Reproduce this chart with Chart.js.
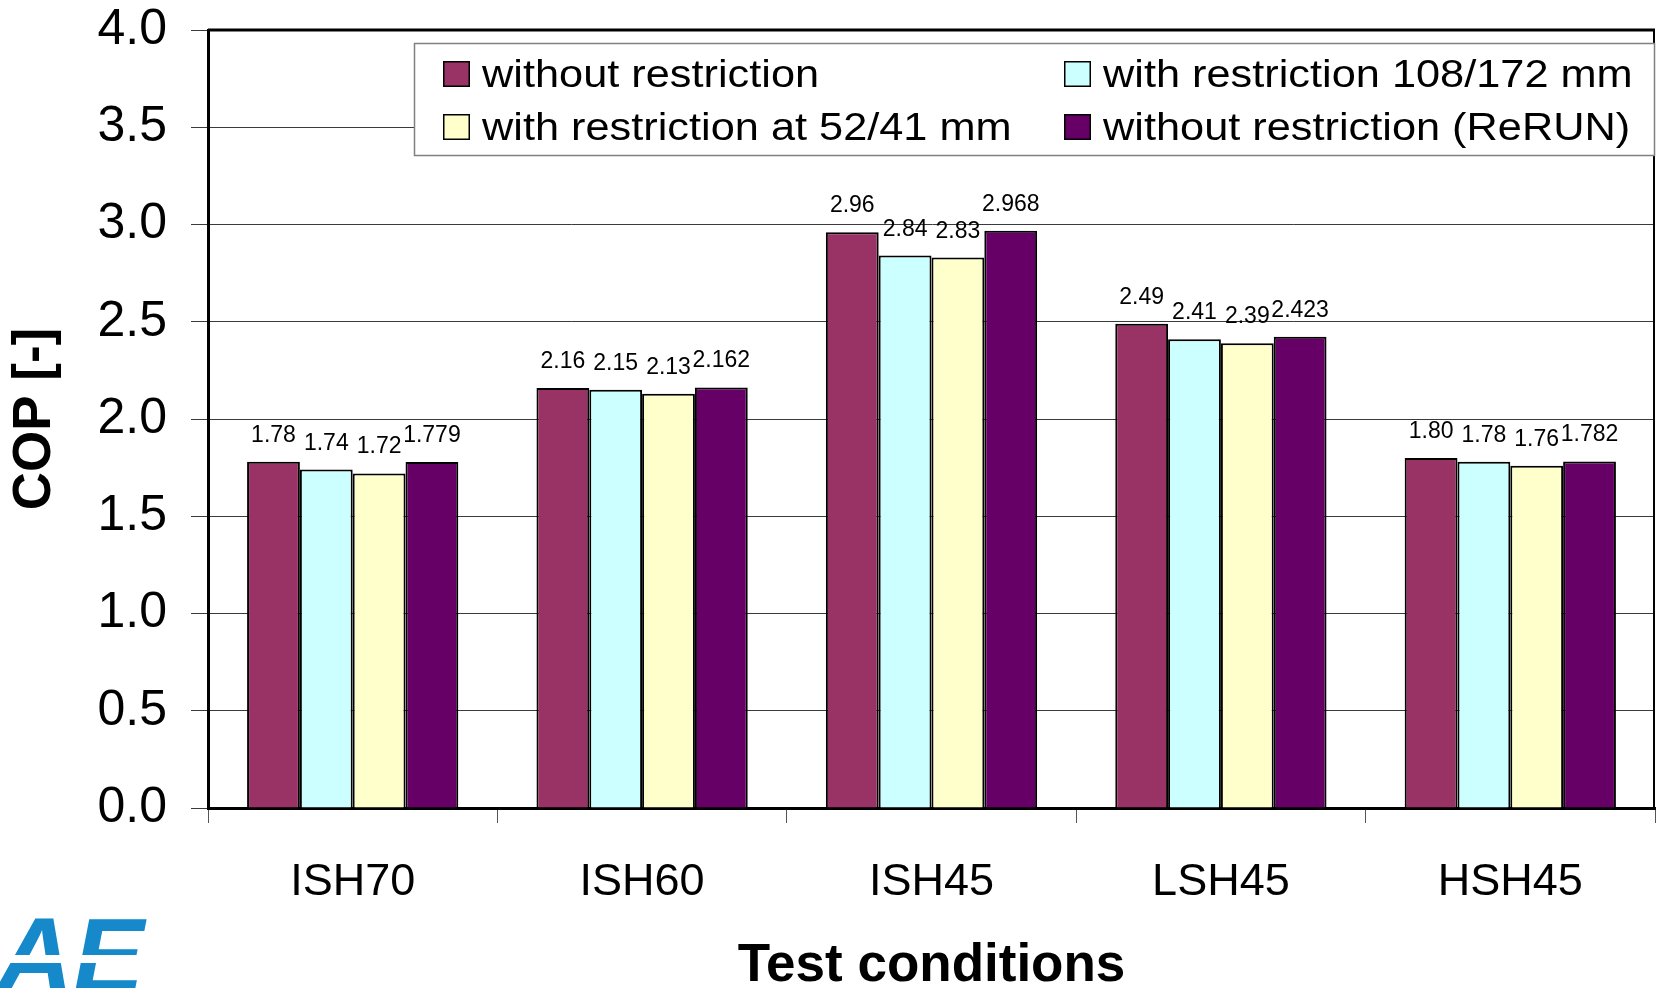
<!DOCTYPE html>
<html>
<head>
<meta charset="utf-8">
<script src="https://cdn.jsdelivr.net/npm/chart.js@4.4.1/dist/chart.umd.min.js"></script>
<style>
  html, body { margin: 0; padding: 0; background: #fff; }
  canvas { display: block; }
</style>
</head>
<body>
<canvas id="copChart" width="1656" height="988"></canvas>
<script>
const categories = ["ISH70", "ISH60", "ISH45", "LSH45", "HSH45"];
const seriesNames = [
  "without restriction",
  "with restriction 108/172 mm",
  "with restriction at 52/41 mm",
  "without restriction (ReRUN)"
];
const withoutRestriction = [1.78, 2.16, 2.96, 2.49, 1.80];
const restriction108 = [1.74, 2.15, 2.84, 2.41, 1.78];
const restriction52 = [1.72, 2.13, 2.83, 2.39, 1.76];
const withoutRestrictionRerun = [1.779, 2.162, 2.968, 2.423, 1.782];
const labelDecimals = [2, 2, 2, 3];
const seriesColors = ["#993366", "#CCFFFF", "#FFFFCC", "#660066"];
const yMin = 0, yMax = 4, yStep = 0.5;

const FONT = "'Liberation Sans', Arial, sans-serif";
Chart.defaults.font.family = FONT;
Chart.defaults.color = "#000";

// value labels above each bar
const valueLabels = {
  id: "valueLabels",
  afterDatasetsDraw(chart) {
    const ctx = chart.ctx;
    ctx.save();
    ctx.font = "23px " + FONT;
    ctx.fillStyle = "#000";
    ctx.textAlign = "center";
    ctx.textBaseline = "alphabetic";
    chart.data.datasets.forEach((ds, i) => {
      chart.getDatasetMeta(i).data.forEach((bar, j) => {
        ctx.fillText(ds.data[j].toFixed(labelDecimals[i]), bar.x, bar.y - 20);
      });
    });
    ctx.restore();
  }
};

// frame on top/right plus the boxed two-column legend
const frameAndLegend = {
  id: "frameAndLegend",
  afterDraw(chart) {
    const ctx = chart.ctx;
    const a = chart.chartArea;
    ctx.save();
    ctx.strokeStyle = "#000";
    ctx.lineWidth = 3;
    ctx.beginPath();
    ctx.moveTo(a.left, a.top);
    ctx.lineTo(a.right, a.top);
    ctx.stroke();
    ctx.lineWidth = 2;
    ctx.beginPath();
    ctx.moveTo(a.right - 1, a.top);
    ctx.lineTo(a.right - 1, a.bottom);
    ctx.stroke();

    // legend box
    const box = { x: 414, y: a.top + 13, w: a.right - 414, h: 112 };
    ctx.fillStyle = "#fff";
    ctx.fillRect(box.x, box.y, box.w, box.h);
    ctx.strokeStyle = "#808080";
    ctx.lineWidth = 1.5;
    ctx.strokeRect(box.x + 0.5, box.y + 0.5, box.w - 1, box.h);

    const colX = [443, 1064];
    const rowBase = [box.y + 44, box.y + 97];
    chart.data.datasets.forEach((ds, i) => {
      const x = colX[i % 2];
      const base = rowBase[Math.floor(i / 2)];
      ctx.fillStyle = ds.backgroundColor;
      ctx.fillRect(x, base - 26, 27, 26);
      ctx.strokeStyle = "#000";
      ctx.lineWidth = 1.5;
      ctx.strokeRect(x + 0.75, base - 25.25, 25.5, 24.5);
      ctx.save();
      ctx.translate(x + 39, base);
      ctx.scale(1.14, 1);
      ctx.fillStyle = "#000";
      ctx.font = "38px " + FONT;
      ctx.textAlign = "left";
      ctx.textBaseline = "alphabetic";
      ctx.fillText(ds.label, 0, 0);
      ctx.restore();
    });

    // corner logo
    ctx.beginPath();
    ctx.rect(0, 912, 150, 76);
    ctx.clip();
    ctx.fillStyle = "#1589CA";
    ctx.font = "italic bold 106px " + FONT;
    ctx.textAlign = "right";
    ctx.textBaseline = "alphabetic";
    ctx.fillText("RAE", 144, 992);
    ctx.fillStyle = "#fff";
    ctx.fillRect(0, 955, 150, 8);
    ctx.restore();
  }
};

const datasets = [withoutRestriction, restriction108, restriction52, withoutRestrictionRerun].map((vals, i) => ({
  label: seriesNames[i],
  data: vals,
  backgroundColor: seriesColors[i],
  borderColor: "#000",
  borderWidth: 2,
  categoryPercentage: 0.73,
  barPercentage: 1.0
}));

new Chart(document.getElementById("copChart").getContext("2d"), {
  type: "bar",
  data: { labels: categories, datasets },
  options: {
    responsive: false,
    animation: false,
    devicePixelRatio: 1,
    layout: { padding: { left: 0, right: 1, top: 0, bottom: 0 } },
    plugins: {
      legend: { display: false },
      tooltip: { enabled: false }
    },
    scales: {
      x: {
        afterFit(scale) { scale.height = 180; },
        grid: {
          offset: true,
          drawOnChartArea: false,
          drawTicks: true,
          tickLength: 15,
          color: "#555"
        },
        border: { display: true, color: "#000", width: 3 },
        ticks: { font: { size: 45 }, padding: 33, color: "#000" },
        title: {
          display: true,
          text: "Test conditions",
          font: { size: 53, weight: "bold", lineHeight: 0.8 },
          padding: { top: 0, bottom: 0 },
          color: "#000"
        }
      },
      y: {
        min: yMin,
        max: yMax,
        afterFit(scale) {
          scale.width = 208;
          scale.paddingTop = 30;
          scale.paddingBottom = 0;
        },
        grid: {
          color: "#3a3a3a",
          lineWidth: 1,
          drawTicks: true,
          tickLength: 17
        },
        border: { display: true, color: "#000", width: 3 },
        ticks: {
          stepSize: yStep,
          font: { size: 50, lineHeight: 1.2 },
          padding: 24,
          color: "#000",
          callback: v => Number(v).toFixed(1)
        },
        title: {
          display: true,
          text: "COP [-]",
          font: { size: 53, weight: "bold" },
          padding: { top: 4, bottom: 0 },
          color: "#000"
        }
      }
    }
  },
  plugins: [valueLabels, frameAndLegend]
});
</script>
</body>
</html>
